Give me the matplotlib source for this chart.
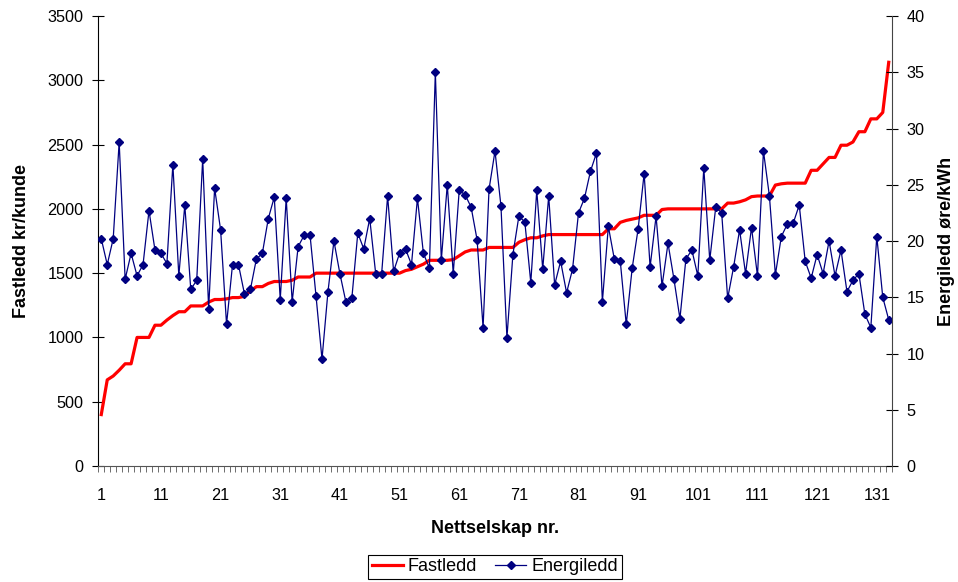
import numpy as np
import matplotlib
matplotlib.use("Agg")
import matplotlib.pyplot as plt

plt.rcParams['font.family'] = ['Liberation Sans', 'DejaVu Sans']

# Fastledd (kr/kunde), left axis
fastledd = [400, 670, 700, 745, 795, 795, 1000, 1000, 1000, 1095,
            1095, 1135, 1170, 1200, 1200, 1245, 1245, 1245, 1275, 1295,
            1295, 1300, 1310, 1310, 1320, 1360, 1395, 1395, 1420, 1435,
            1435, 1435, 1445, 1470, 1470, 1470, 1500, 1500, 1500, 1500,
            1500, 1500, 1500, 1500, 1500, 1500, 1500, 1500, 1500, 1500,
            1500, 1520, 1530, 1550, 1570, 1600, 1600, 1600, 1600, 1605,
            1635, 1665, 1680, 1680, 1680, 1700, 1700, 1700, 1700, 1700,
            1740, 1760, 1775, 1775, 1790, 1800, 1800, 1800, 1800, 1800,
            1800, 1800, 1800, 1800, 1800, 1845, 1845, 1895, 1910, 1920,
            1930, 1950, 1950, 1950, 1995, 2000, 2000, 2000, 2000, 2000,
            2000, 2000, 2000, 2000, 2000, 2045, 2045, 2055, 2070, 2095,
            2100, 2100, 2100, 2185, 2195, 2200, 2200, 2200, 2200, 2300,
            2300, 2350, 2400, 2400, 2495, 2495, 2520, 2600, 2600, 2700,
            2700, 2750, 3140]

# Energiledd (øre/kWh), right axis
energiledd = [20.2, 17.9, 20.2, 28.8, 16.6, 18.9, 16.9, 17.9, 22.7, 19.2,
              18.9, 18.0, 26.8, 16.9, 23.2, 15.7, 16.5, 27.3, 14.0, 24.7,
              21.0, 12.6, 17.9, 17.9, 15.3, 15.7, 18.4, 18.9, 22.0, 23.9,
              14.8, 23.8, 14.6, 19.5, 20.5, 20.5, 15.1, 9.5, 15.5, 20.0,
              17.1, 14.6, 14.9, 20.7, 19.3, 22.0, 17.1, 17.1, 24.0, 17.3,
              18.9, 19.3, 17.9, 23.8, 18.9, 17.6, 35.0, 18.3, 25.0, 17.1,
              24.5, 24.1, 23.0, 20.1, 12.3, 24.6, 28.0, 23.1, 11.4, 18.8,
              22.2, 21.7, 16.3, 24.5, 17.5, 24.0, 16.1, 18.2, 15.4, 17.5,
              22.5, 23.8, 26.2, 27.8, 14.6, 21.3, 18.4, 18.2, 12.6, 17.6,
              21.1, 26.0, 17.7, 22.2, 16.0, 19.8, 16.6, 13.1, 18.4, 19.2,
              16.9, 26.5, 18.3, 23.0, 22.5, 14.9, 17.7, 21.0, 17.1, 21.2,
              16.9, 28.0, 24.0, 17.0, 20.4, 21.5, 21.6, 23.2, 18.2, 16.7,
              18.8, 17.1, 20.0, 16.9, 19.2, 15.5, 16.5, 17.1, 13.5, 12.3,
              20.4, 15.0, 13.0]

nr = np.arange(1, len(fastledd) + 1)
xtick_labels = [str(i) for i in range(1, 132, 10)]

fig = plt.figure(figsize=(9.58, 5.82), dpi=100)
ax = fig.add_axes([0.1026, 0.1993, 0.8282, 0.7732])
ax2 = ax.twinx()

l1, = ax.plot(nr, fastledd, color='#FF0000', lw=2.3, label='Fastledd', zorder=3)
l2, = ax2.plot(nr, energiledd, color='#000080', lw=0.9, marker='D',
               markersize=4, label='Energiledd')

ax.set_xlim(0.5, len(nr) + 0.5)
ax.set_ylim(0, 3500)
ax2.set_ylim(0, 40)
ax.set_yticks(np.arange(0, 3501, 500))
ax2.set_yticks(np.arange(0, 41, 5))

# labels at category centres, tick marks between categories
ax.set_xticks([int(s) for s in xtick_labels])
ax.set_xticklabels(xtick_labels)
ax.set_xticks(np.arange(0.5, len(nr) + 1, 1), minor=True)
ax.tick_params(axis='x', which='major', length=0, pad=16, labelsize=11.7)
ax.tick_params(axis='x', which='minor', length=4, direction='out', color='#555555')
ax.tick_params(axis='y', direction='inout', length=9, labelsize=11.7, pad=6)
ax2.tick_params(axis='y', direction='inout', length=9, labelsize=11.7, pad=6)

for a in (ax, ax2):
    a.spines['top'].set_visible(False)
ax.spines['right'].set_visible(False)
ax2.spines['left'].set_visible(False)
ax2.spines['bottom'].set_visible(False)
ax.spines['bottom'].set_color('#555555')
ax2.spines['right'].set_color('#444444')

ax.set_xlabel('Nettselskap nr.', fontsize=13, fontweight='bold', labelpad=12)
ax.set_ylabel('Fastledd kr/kunde', fontsize=13, fontweight='bold', labelpad=13)
ax2.set_ylabel('Energiledd øre/kWh', fontsize=13, fontweight='bold', labelpad=10)

leg = fig.legend(handles=[l1, l2], loc='upper center', bbox_to_anchor=(0.5167, 0.047),
                 ncol=2, fontsize=13, frameon=True, fancybox=False, framealpha=1,
                 edgecolor='black', handlelength=1.7, handletextpad=0.3,
                 columnspacing=1.0, borderpad=0.2, borderaxespad=0)
leg.get_frame().set_linewidth(0.8)

fig.savefig('out.png', dpi=100)
